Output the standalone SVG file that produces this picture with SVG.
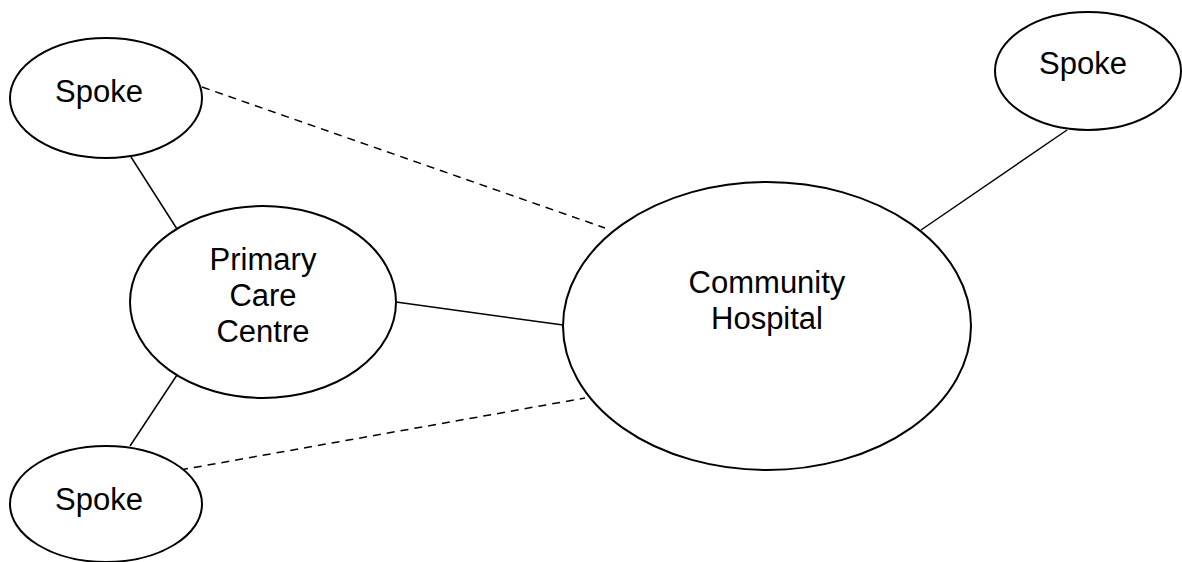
<svg xmlns="http://www.w3.org/2000/svg" width="1182" height="562" viewBox="0 0 1182 562">
<style>
.node{fill:#fff;stroke:#000;stroke-width:2}
.lbl{font-family:"Liberation Sans",Arial,sans-serif;font-size:31px;fill:#000;text-anchor:middle}
.c{stroke:#000;stroke-width:1.5;fill:none}
.d{stroke-dasharray:8,6}
</style>
<rect width="1182" height="562" fill="#fff"/>
<g id="connectors">
<line class="c d" x1="202" y1="87" x2="605" y2="228"/>
<line class="c d" x1="180" y1="470" x2="585" y2="398"/>
<line class="c" x1="131" y1="157" x2="177" y2="229"/>
<line class="c" x1="130" y1="446" x2="177" y2="375"/>
<line class="c" x1="396" y1="302" x2="563" y2="325"/>
<line class="c" x1="921" y1="230" x2="1067" y2="130"/>
</g>
<g id="spoke-top-left">
<ellipse class="node" cx="106" cy="98" rx="96" ry="60"/>
<text class="lbl" x="99" y="102">Spoke</text>
</g>
<g id="spoke-top-right">
<ellipse class="node" cx="1088" cy="71" rx="93" ry="59"/>
<text class="lbl" x="1083" y="74">Spoke</text>
</g>
<g id="spoke-bottom">
<ellipse class="node" cx="106" cy="504" rx="96" ry="58"/>
<text class="lbl" x="99" y="510">Spoke</text>
</g>
<g id="primary-care-centre">
<ellipse class="node" cx="263" cy="302" rx="133" ry="96"/>
<text class="lbl" x="263" y="270">Primary</text>
<text class="lbl" x="263" y="306">Care</text>
<text class="lbl" x="263" y="342">Centre</text>
</g>
<g id="community-hospital">
<ellipse class="node" cx="767" cy="326" rx="204" ry="144"/>
<text class="lbl" x="767" y="293">Community</text>
<text class="lbl" x="767" y="329">Hospital</text>
</g>
</svg>
